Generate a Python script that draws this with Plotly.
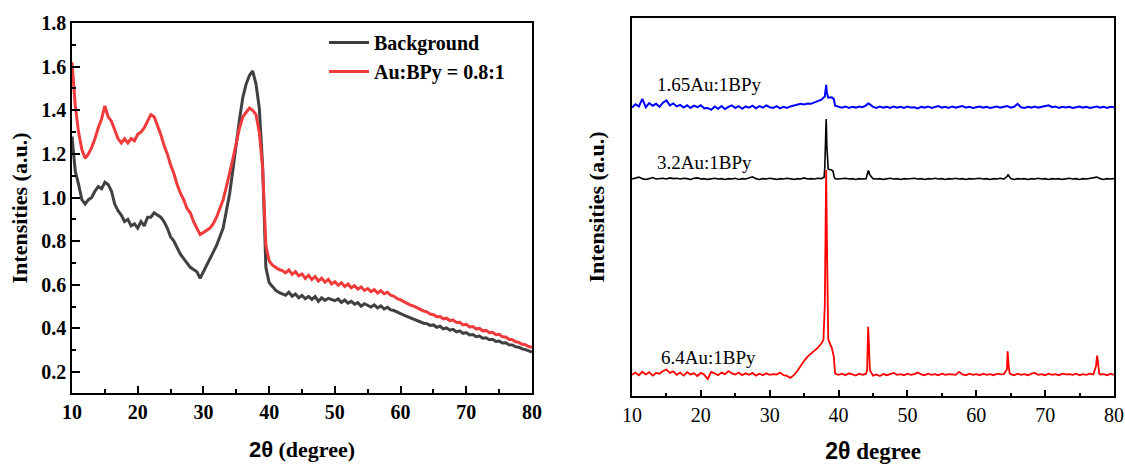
import plotly.graph_objects as go

# ---------------- left panel: broad XRD patterns, 10-80 deg in 0.5 deg steps ----------------
bg_vals = [
    1.28, 1.12, 1.06, 0.99, 0.97, 0.99, 1.00, 1.03, 1.05, 1.04,   # 10.0-14.5
    1.07, 1.06, 1.03, 0.97, 0.94, 0.92, 0.89, 0.90, 0.87, 0.88,   # 15.0-19.5
    0.86, 0.89, 0.87, 0.91, 0.91, 0.93, 0.92, 0.91, 0.89, 0.86,   # 20.0-24.5
    0.82, 0.80, 0.77, 0.74, 0.72, 0.70, 0.68, 0.67, 0.66, 0.63,   # 25.0-29.5
    0.66, 0.69, 0.72, 0.75, 0.78, 0.82, 0.86, 0.94, 1.02, 1.13,   # 30.0-34.5
    1.25, 1.36, 1.46, 1.52, 1.56, 1.58, 1.52, 1.41, 1.15, 0.68,   # 35.0-39.5
    0.61, 0.59, 0.575, 0.565, 0.56, 0.552, 0.566, 0.548, 0.558, 0.541,   # 40.0-44.5
    0.551, 0.536, 0.547, 0.533, 0.546, 0.524, 0.540, 0.528, 0.538, 0.531,  # 45.0-49.5
    0.527, 0.535, 0.519, 0.530, 0.516, 0.524, 0.511, 0.518, 0.502, 0.513,  # 50.0-54.5
    0.505, 0.498, 0.508, 0.494, 0.503, 0.489, 0.497, 0.485, 0.482, 0.473,  # 55.0-59.5
    0.468, 0.461, 0.455, 0.448, 0.443, 0.436, 0.432, 0.424, 0.422, 0.414,  # 60.0-64.5
    0.416, 0.405, 0.410, 0.398, 0.402, 0.392, 0.396, 0.384, 0.389, 0.377,  # 65.0-69.5
    0.381, 0.370, 0.372, 0.362, 0.365, 0.355, 0.357, 0.348, 0.350, 0.340,  # 70.0-74.5
    0.342, 0.333, 0.334, 0.325, 0.324, 0.316, 0.314, 0.306, 0.303, 0.296,  # 75.0-79.5
    0.291,                                                                 # 80.0
]
aubpy_vals = [
    1.62, 1.42, 1.30, 1.22, 1.18, 1.20, 1.23, 1.27, 1.32, 1.36,   # 10.0-14.5
    1.42, 1.37, 1.35, 1.31, 1.27, 1.25, 1.27, 1.25, 1.27, 1.26,   # 15.0-19.5
    1.29, 1.30, 1.32, 1.35, 1.38, 1.37, 1.33, 1.29, 1.24, 1.20,   # 20.0-24.5
    1.15, 1.11, 1.06, 1.02, 0.99, 0.95, 0.93, 0.89, 0.86, 0.83,   # 25.0-29.5
    0.84, 0.85, 0.86, 0.88, 0.91, 0.95, 0.99, 1.05, 1.11, 1.18,   # 30.0-34.5
    1.25, 1.32, 1.37, 1.39, 1.41, 1.40, 1.38, 1.30, 1.14, 0.78,   # 35.0-39.5
    0.71, 0.69, 0.68, 0.67, 0.665, 0.655, 0.668, 0.648, 0.660, 0.641,    # 40.0-44.5
    0.650, 0.629, 0.644, 0.624, 0.638, 0.617, 0.630, 0.612, 0.625, 0.604,  # 45.0-49.5
    0.614, 0.598, 0.609, 0.592, 0.603, 0.586, 0.596, 0.580, 0.590, 0.574,  # 50.0-54.5
    0.583, 0.569, 0.578, 0.562, 0.573, 0.559, 0.566, 0.552, 0.547, 0.536,  # 55.0-59.5
    0.531, 0.522, 0.516, 0.507, 0.502, 0.494, 0.488, 0.480, 0.476, 0.466,  # 60.0-64.5
    0.463, 0.454, 0.455, 0.444, 0.447, 0.436, 0.438, 0.427, 0.428, 0.416,  # 65.0-69.5
    0.419, 0.407, 0.409, 0.398, 0.400, 0.389, 0.391, 0.380, 0.382, 0.371,  # 70.0-74.5
    0.373, 0.362, 0.361, 0.350, 0.348, 0.339, 0.336, 0.327, 0.325, 0.317,  # 75.0-79.5
    0.314,                                                                 # 80.0
]

# ---------------- right panel: stacked patterns (arbitrary units, offset) ----------------
# base grid 10-80 deg in 0.5 deg steps, plus extra points resolving the sharp reflections
au165_vals = [
    76.3, 77.2, 76.6, 78.6, 76.4, 77.5, 76.8, 77.3, 76.5, 77.6,   # 10.0-14.5
    78.2, 76.9, 77.4, 76.6, 77.0, 76.3, 76.9, 76.2, 76.8, 76.4,   # 15.0-19.5
    76.9, 76.1, 76.2, 75.7, 76.6, 76.0, 76.7, 75.9, 76.5, 76.9,   # 20.0-24.5
    76.2, 76.7, 76.0, 76.6, 76.3, 76.8, 76.1, 76.7, 76.3, 76.9,   # 25.0-29.5
    76.4, 76.2, 76.7, 76.1, 76.5, 76.2, 76.6, 76.8, 76.9, 77.3,   # 30.0-34.5
    77.1, 77.4, 77.3, 77.7, 77.9, 78.4, 79.2, 78.9, 79.0, 76.8,   # 35.0-39.5
    76.5, 76.3, 76.6, 76.2, 76.5, 76.3, 76.6, 76.4, 76.9, 77.2,   # 40.0-44.5
    76.5, 76.2, 76.6, 76.3, 76.5, 76.2, 76.6, 76.3, 76.5, 76.2,   # 45.0-49.5
    76.6, 76.3, 76.4, 76.1, 76.5, 76.3, 76.6, 76.2, 76.4, 76.7,   # 50.0-54.5
    76.3, 76.5, 76.2, 76.6, 76.3, 76.5, 76.7, 76.3, 76.5, 76.2,   # 55.0-59.5
    76.4, 76.6, 76.3, 76.5, 76.2, 76.4, 76.6, 76.3, 76.5, 76.7,   # 60.0-64.5
    76.3, 76.5, 77.3, 76.4, 76.2, 76.5, 76.3, 76.6, 76.3, 76.5,   # 65.0-69.5
    76.8, 76.9, 76.4, 76.6, 76.2, 76.5, 76.3, 76.5, 76.2, 76.4,   # 70.0-74.5
    76.6, 76.3, 76.5, 76.2, 76.4, 76.6, 76.3, 76.5, 76.2, 76.5,   # 75.0-79.5
    76.4,                                                         # 80.0
]
au165_peak_x = [38.1, 38.2, 38.3, 39.3, 44.3]
au165_peak_y = [81.2, 82.3, 80.2, 78.6, 77.4]

au32_vals = [
    57.4, 57.6, 57.9, 57.5, 57.3, 57.5, 57.8, 57.4, 57.5, 57.6,   # 10.0-14.5
    57.4, 57.7, 57.5, 57.6, 57.4, 57.6, 57.5, 57.3, 57.6, 57.7,   # 15.0-19.5
    57.4, 57.5, 57.3, 57.5, 57.6, 57.4, 57.5, 57.3, 57.5, 57.4,   # 20.0-24.5
    57.6, 57.3, 57.5, 57.4, 57.6, 58.0, 57.5, 57.3, 57.5, 57.4,   # 25.0-29.5
    57.6, 57.4, 57.3, 57.5, 57.4, 57.6, 57.5, 57.3, 57.5, 57.4,   # 30.0-34.5
    57.7, 57.4, 57.5, 57.4, 57.6, 57.5, 60.5, 60.0, 59.8, 57.5,   # 35.0-39.5
    57.4, 57.5, 57.6, 57.4, 57.5, 57.3, 57.5, 57.4, 57.5, 58.6,   # 40.0-44.5
    57.5, 57.4, 57.5, 57.3, 57.5, 57.6, 57.4, 57.5, 57.3, 57.5,   # 45.0-49.5
    57.4, 57.5, 57.6, 57.4, 57.5, 57.3, 57.5, 57.4, 57.6, 57.4,   # 50.0-54.5
    57.5, 57.3, 57.5, 57.4, 57.6, 57.4, 57.5, 57.3, 57.5, 57.4,   # 55.0-59.5
    57.5, 57.6, 57.4, 57.5, 57.3, 57.5, 57.4, 57.6, 57.4, 58.1,   # 60.0-64.5
    57.5, 57.3, 57.5, 57.4, 57.5, 57.3, 57.5, 57.4, 57.6, 57.4,   # 65.0-69.5
    57.5, 57.3, 57.5, 57.4, 57.5, 57.3, 57.5, 57.6, 57.4, 57.5,   # 70.0-74.5
    57.3, 57.5, 57.4, 57.5, 57.6, 57.9, 57.5, 57.3, 57.5, 57.4,   # 75.0-79.5
    57.5,                                                         # 80.0
]
au32_peak_x = [37.9, 38.1, 38.2, 38.3, 38.4, 39.2, 39.35, 44.3, 44.4, 64.6]
au32_peak_y = [57.9, 67.0, 73.3, 66.0, 61.0, 59.4, 58.0, 59.6, 59.4, 58.6]

au64_vals = [
    5.6, 6.2, 5.5, 6.4, 5.7, 6.3, 5.4, 6.1, 5.9, 6.6,    # 10.0-14.5
    7.0, 6.1, 6.5, 5.6, 6.2, 5.4, 6.3, 5.7, 6.0, 5.3,    # 15.0-19.5
    6.1, 5.6, 4.5, 6.4, 6.0, 5.5, 6.2, 5.8, 6.6, 6.0,    # 20.0-24.5
    5.7, 6.2, 5.5, 6.0, 5.6, 6.1, 5.4, 5.9, 5.5, 6.0,    # 25.0-29.5
    5.6, 5.8, 5.7, 6.2, 5.5, 5.3, 4.8, 5.5, 6.6, 8.1,    # 30.0-34.5
    9.3, 10.4, 11.2, 12.1, 12.8, 13.9, 24.0, 15.0, 12.8, 5.9,   # 35.0-39.5
    5.6, 5.9, 5.5, 6.0, 5.7, 5.4, 5.9, 5.6, 5.9, 9.5,    # 40.0-44.5
    5.4, 5.7, 5.3, 5.8, 5.5, 5.9, 6.1, 5.6, 5.8, 5.5,    # 45.0-49.5
    5.9, 5.6, 5.8, 6.2, 5.7, 5.5, 5.9, 5.6, 5.8, 5.5,    # 50.0-54.5
    5.9, 5.6, 5.8, 5.7, 5.6, 6.4, 5.7, 5.5, 5.9, 5.6,    # 55.0-59.5
    5.8, 5.5, 5.9, 5.6, 5.8, 5.5, 5.9, 5.7, 5.8, 9.5,    # 60.0-64.5
    5.8, 5.5, 5.9, 5.6, 5.8, 5.5, 5.9, 6.1, 5.6, 5.8,    # 65.0-69.5
    5.5, 5.9, 5.6, 5.8, 5.5, 5.9, 5.7, 5.8, 5.6, 5.9,    # 70.0-74.5
    5.5, 5.8, 5.6, 5.9, 5.7, 10.0, 5.7, 5.8, 5.5, 5.9,   # 75.0-79.5
    5.6,                                                 # 80.0
]
au64_peak_x = [37.8, 38.1, 38.2, 38.3, 38.4, 38.6, 39.3, 39.4,
               44.15, 44.25, 44.3, 44.4, 44.55,
               64.45, 64.55, 64.7, 64.85,
               77.4, 77.55, 77.7, 77.85]
au64_peak_y = [14.8, 45.0, 59.8, 42.0, 20.0, 14.5, 10.5, 6.0,
               7.0, 15.0, 18.3, 14.0, 6.8,
               7.0, 11.8, 8.0, 6.0,
               8.0, 10.7, 8.5, 6.0]

sample_labels = ["1.65Au:1BPy", "3.2Au:1BPy", "6.4Au:1BPy"]
label_pos_x = [13.3, 13.3, 13.9]
label_pos_y = [82.3, 61.9, 10.3]


def grid_x(vals):
    return [10 + 0.5 * i for i in range(len(vals))]


def merged(vals, px, py):
    pts = sorted(zip(grid_x(vals) + px, vals + py))
    return [p[0] for p in pts], [p[1] for p in pts]


SERIF = "Liberation Serif"
W, H = 1125, 464

fig = go.Figure()

fig.add_trace(go.Scatter(x=grid_x(bg_vals), y=bg_vals, mode="lines", name="Background",
                         line=dict(color="#404040", width=3), xaxis="x", yaxis="y"))
fig.add_trace(go.Scatter(x=grid_x(aubpy_vals), y=aubpy_vals, mode="lines", name="Au:BPy = 0.8:1",
                         line=dict(color="#ef3b3b", width=3), xaxis="x", yaxis="y"))

for (vals, px, py), color, lw in zip(
        [(au165_vals, au165_peak_x, au165_peak_y),
         (au32_vals, au32_peak_x, au32_peak_y),
         (au64_vals, au64_peak_x, au64_peak_y)],
        ["#0000ff", "#000000", "#ff0000"], [2.0, 1.6, 1.8]):
    xs, ys = merged(vals, px, py)
    fig.add_trace(go.Scatter(x=xs, y=ys, mode="lines", showlegend=False,
                             line=dict(color=color, width=lw), xaxis="x2", yaxis="y2"))

for text, lx, ly in zip(sample_labels, label_pos_x, label_pos_y):
    fig.add_annotation(x=lx, y=ly, xref="x2", yref="y2", text=text, showarrow=False,
                       xanchor="left", yanchor="middle",
                       font=dict(family=SERIF, size=19, color="black"))

axis_common = dict(showgrid=False, zeroline=False, showline=True, linecolor="black",
                   linewidth=1.5, mirror=True, ticks="inside", tickcolor="black",
                   tickwidth=1.5, automargin=False)
bold_ticks = dict(family=SERIF, size=20, weight="bold", color="black")

fig.update_layout(
    template="none",
    width=W, height=H,
    margin=dict(l=0, r=0, t=0, b=0),
    paper_bgcolor="white", plot_bgcolor="white",
    font=dict(family=SERIF, color="black"),
    xaxis=dict(**axis_common, domain=[72 / W, 532 / W], range=[10, 80], tick0=10, dtick=10,
               ticklen=7, tickfont=bold_ticks,
               minor=dict(dtick=5, ticks="inside", ticklen=4, tickwidth=1.5, tickcolor="black"),
               title=dict(text='<span style="font-family:Liberation Sans">2θ</span> (degree)',
                          font=dict(family=SERIF, size=22, weight="bold"), standoff=20),
               anchor="y"),
    yaxis=dict(**axis_common, domain=[1 - 393 / H, 1 - 23 / H], range=[0.104, 1.8], tick0=0.2,
               dtick=0.2, tickformat=".1f", ticklen=8, tickfont=bold_ticks,
               minor=dict(dtick=0.1, ticks="inside", ticklen=4, tickwidth=1.5, tickcolor="black"),
               title=dict(text="Intensities (a.u.)",
                          font=dict(family=SERIF, size=22, weight="bold"), standoff=8),
               anchor="x"),
    xaxis2=dict(**axis_common, domain=[632 / W, 1114 / W], range=[10, 80], tick0=10, dtick=10,
                ticklen=6, tickfont=dict(family=SERIF, size=20, color="black"),
                minor=dict(dtick=5, ticks="inside", ticklen=3, tickwidth=1.5, tickcolor="black"),
                title=dict(text='<span style="font-family:Liberation Sans">2θ</span> degree',
                           font=dict(family=SERIF, size=23, weight="bold"), standoff=19),
                anchor="y2"),
    yaxis2=dict(showgrid=False, zeroline=False, showline=True, linecolor="black", linewidth=1.5,
                mirror=True, ticks="", showticklabels=False, automargin=False,
                domain=[1 - 396 / H, 1 - 18 / H], range=[0, 100],
                title=dict(text="Intensities (a.u.)",
                           font=dict(family=SERIF, size=22, weight="bold"), standoff=20),
                anchor="x2"),
    legend=dict(x=324 / W, y=1 - 23 / H, xanchor="left", yanchor="top",
                bgcolor="rgba(0,0,0,0)", borderwidth=0, itemwidth=40,
                font=dict(family=SERIF, size=20, weight="bold", color="black"), tracegroupgap=0),
)

fig.write_html("out.html")
